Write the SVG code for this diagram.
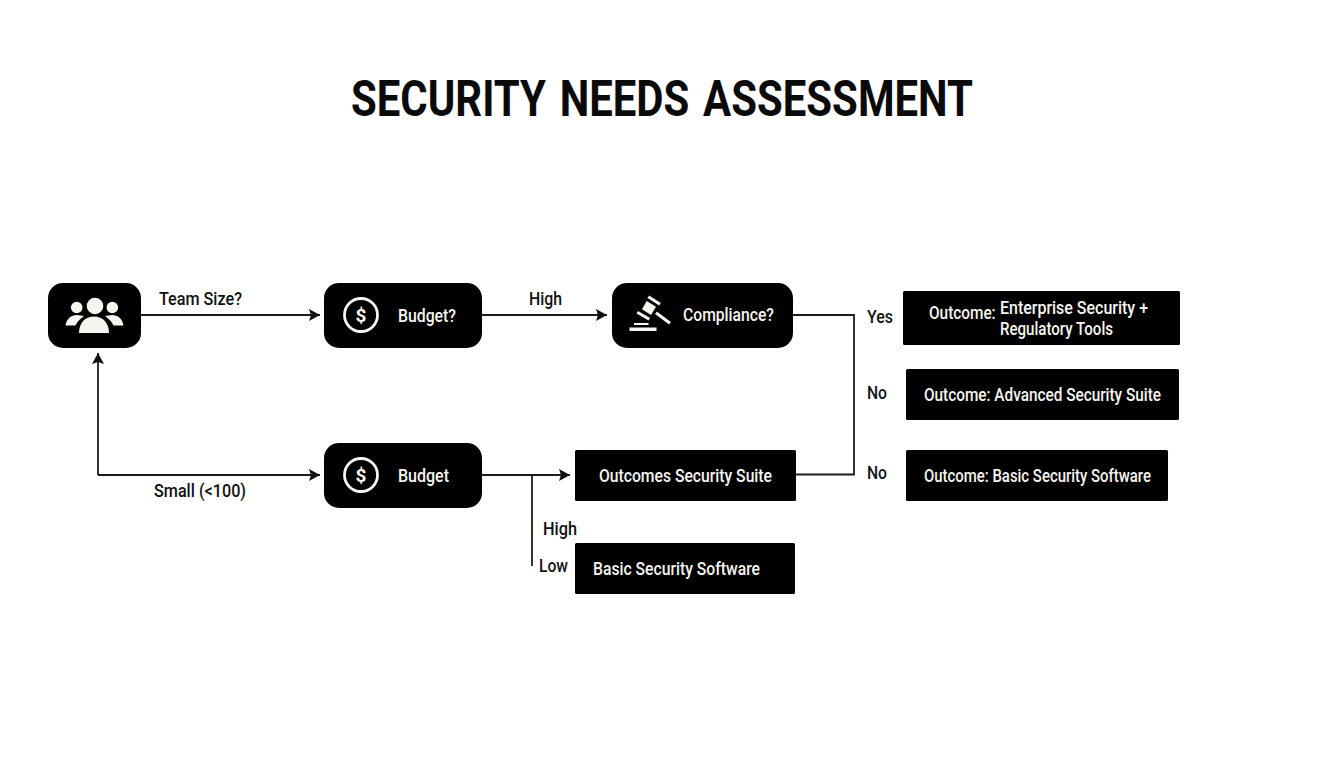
<svg xmlns="http://www.w3.org/2000/svg" width="1344" height="768" viewBox="0 0 1344 768">
<style>
text{font-family:Roboto,"Liberation Sans",sans-serif;font-weight:500}
.l{fill:#111;font-size:19px}
.w{fill:#f7f5f0;font-size:19px}
.t{fill:#0a0a0a;font-size:50.500px;font-weight:700;word-spacing:4px}
.b{fill:#000}
.c{fill:none;stroke:#1c1c1c;stroke-width:1.8}
.i{fill:#f7f5f0}
.s{fill:none;stroke:#f7f5f0;stroke-linecap:butt}
.r{fill:none;stroke:#f7f5f0;stroke-width:2.8}
</style>
<defs>
<marker id="a" markerUnits="userSpaceOnUse" markerWidth="12" markerHeight="14" refX="11" refY="7" orient="auto"><path d="M0 1L11 7L0 13L2 7Z" fill="#111"/></marker>
<g id="dollar"><circle r="16.5" class="r"/><text y="6.5" text-anchor="middle" class="w" style="font-size:19px;font-weight:700">$</text></g>
</defs>
<rect width="1344" height="768" fill="#fff"/>
<text class="t" x="351" y="115.500" textLength="622" lengthAdjust="spacingAndGlyphs">SECURITY NEEDS ASSESSMENT</text>
<g id="connectors">
<path class="c" d="M141 315H320" marker-end="url(#a)"/>
<path class="c" d="M482 315H607" marker-end="url(#a)"/>
<path class="c" d="M793 315H854V474.500H796"/>
<path class="c" d="M98 475V353" marker-end="url(#a)"/>
<path class="c" d="M98 475H320" marker-end="url(#a)"/>
<path class="c" d="M482 475H570" marker-end="url(#a)"/>
<path class="c" d="M532 475V566"/>
</g>
<g id="edge-labels">
<text class="l" x="159" y="305" textLength="83" lengthAdjust="spacingAndGlyphs">Team Size?</text>
<text class="l" x="154" y="497" textLength="92" lengthAdjust="spacingAndGlyphs">Small (&lt;100)</text>
<text class="l" x="529" y="305" textLength="33" lengthAdjust="spacingAndGlyphs">High</text>
<text class="l" x="543" y="535" textLength="34" lengthAdjust="spacingAndGlyphs">High</text>
<text class="l" x="539" y="572" textLength="29" lengthAdjust="spacingAndGlyphs">Low</text>
<text class="l" x="867" y="323" textLength="26" lengthAdjust="spacingAndGlyphs">Yes</text>
<text class="l" x="867" y="399" textLength="20" lengthAdjust="spacingAndGlyphs">No</text>
<text class="l" x="867" y="479" textLength="20" lengthAdjust="spacingAndGlyphs">No</text>
</g>
<g id="team">
<rect class="b" x="48" y="283" width="93" height="65" rx="15"/>
<circle class="i" cx="76.700" cy="307.500" r="5.800"/><circle class="i" cx="112.300" cy="307.500" r="5.800"/>
<path class="i" d="M65.500 325.500C66.500 319 71 315 77 315L84 316C80 319 77 322 75.500 325.500Z"/>
<path class="i" d="M123.500 325.500C122.500 319 118 315 112 315L105 316C109 319 112 322 113.500 325.500Z"/>
<circle class="i" cx="95" cy="306" r="8.300"/>
<path class="i" d="M79 333C79 323 85 316.500 94 316.500C103 316.500 109 323 109 333Z"/>
</g>
<g id="budget-top">
<rect class="b" x="324" y="283" width="158" height="65" rx="15"/>
<use href="#dollar" x="361" y="315"/>
<text class="w" x="398" y="321.500" textLength="58" lengthAdjust="spacingAndGlyphs">Budget?</text>
</g>
<g id="compliance">
<rect class="b" x="612" y="283" width="181" height="65" rx="15"/>
<path class="i" d="M646.700 301L656 306.700L651 315L642 309.300Z"/>
<path class="s" stroke-width="3" d="M648.300 296.700L660 304.300M637.300 312.300L649.300 319.300"/>
<path class="s" stroke-width="3" d="M656 312.700L670 323.300"/>
<path class="s" stroke-width="2" d="M634 324H648.500"/>
<rect class="i" x="629.500" y="327.500" width="27" height="3.500"/>
<text class="w" x="683" y="321" textLength="91" lengthAdjust="spacingAndGlyphs">Compliance?</text>
</g>
<g id="budget-bottom">
<rect class="b" x="324" y="443" width="158" height="65" rx="15"/>
<use href="#dollar" x="361" y="475"/>
<text class="w" x="398" y="481.500" textLength="51" lengthAdjust="spacingAndGlyphs">Budget</text>
</g>
<g id="outcome-enterprise">
<rect class="b" x="903" y="291" width="277" height="54" rx="1.500"/>
<text class="w" transform="translate(929 318.500) scale(.81 1)">Outcome:</text>
<text class="w" x="1000" y="313.500" textLength="148" lengthAdjust="spacingAndGlyphs">Enterprise Security +</text>
<text class="w" x="1000" y="334.500" textLength="113" lengthAdjust="spacingAndGlyphs">Regulatory Tools</text>
</g>
<g id="outcome-advanced">
<rect class="b" x="906" y="369" width="273" height="51" rx="1.500"/>
<text class="w" x="924" y="400.500" textLength="237" lengthAdjust="spacingAndGlyphs">Outcome: Advanced Security Suite</text>
</g>
<g id="outcome-basic">
<rect class="b" x="906" y="450" width="262" height="51" rx="1.500"/>
<text class="w" x="924" y="481.500" textLength="227" lengthAdjust="spacingAndGlyphs">Outcome: Basic Security Software</text>
</g>
<g id="outcomes-suite">
<rect class="b" x="575" y="450" width="221" height="51" rx="1.500"/>
<text class="w" x="599" y="481.500" textLength="173" lengthAdjust="spacingAndGlyphs">Outcomes Security Suite</text>
</g>
<g id="basic-software">
<rect class="b" x="575" y="543" width="220" height="51" rx="1.500"/>
<text class="w" x="593" y="574.500" textLength="167" lengthAdjust="spacingAndGlyphs">Basic Security Software</text>
</g>
</svg>
